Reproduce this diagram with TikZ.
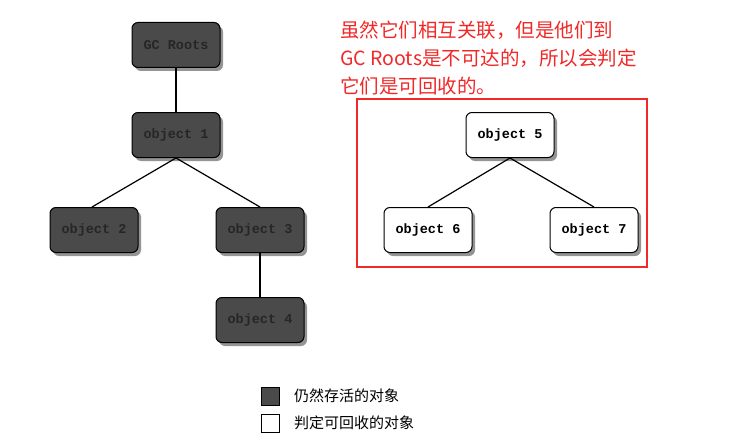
\documentclass[tikz,border=0pt]{standalone}
\usepackage{fontspec}
\newfontfamily\cjk{Noto Sans CJK SC}
\newfontfamily\mono{Liberation Mono}
\usetikzlibrary{shadows}
\definecolor{darkobj}{HTML}{4A4A4A}
\definecolor{redtxt}{HTML}{F02828}
\begin{document}
\begin{tikzpicture}[x=1pt,y=-1pt,
  objbox/.style={rounded corners=6pt, draw=black, line width=1pt, minimum width=88pt, minimum height=45pt, font=\mono\fontsize{13.5}{13.5}\selectfont\bfseries, drop shadow={shadow xshift=3pt, shadow yshift=-3.5pt, opacity=0.6, fill=black!70}},
  live/.style={objbox, fill=darkobj, text=black!85},
  dead/.style={objbox, fill=white, text=black},
  link/.style={line width=1.2pt, black}]
\useasboundingbox (0,0) rectangle (739,444);
\node[live] (gc) at (176,45) {GC Roots};
\node[live] (o1) at (176,135) {object 1};
\node[live] (o2) at (94,230) {object 2};
\node[live] (o3) at (260,230) {object 3};
\node[live] (o4) at (260,320) {object 4};
\node[dead] (o5) at (510,135) {object 5};
\node[dead] (o6) at (428,230) {object 6};
\node[dead] (o7) at (594,230) {object 7};
\draw[link] (gc.south) -- (o1.north);
\draw[link] (o1.south) -- ([xshift=-2pt]o2.north);
\draw[link] (o1.south) -- (o3.north);
\draw[link] (o3.south) -- (o4.north);
\draw[link] (o5.south) -- (o6.north);
\draw[link] (o5.south) -- (o7.north);
\node[draw=redtxt, line width=2pt, minimum width=290pt, minimum height=168pt, inner sep=0pt] (frame) at (502,183) {};
\node[anchor=north west, text=redtxt, font=\cjk\fontsize{19.5}{28}\selectfont, align=left, inner sep=0pt] (note) at (340,21) {虽然它们相互关联，但是他们到\\GC Roots是不可达的，所以会判定\\它们是可回收的。};
\node[draw=black, line width=1pt, fill=darkobj, minimum size=18pt, inner sep=0pt] (k1) at (270,396) {};
\node[draw=black, line width=1pt, fill=white, minimum size=18pt, inner sep=0pt] (k2) at (270,423) {};
\node[anchor=west, font=\cjk\fontsize{15}{15}\selectfont, inner sep=0pt] (t1) at (294,396) {仍然存活的对象};
\node[anchor=west, font=\cjk\fontsize{15}{15}\selectfont, inner sep=0pt] (t2) at (294,423) {判定可回收的对象};
\end{tikzpicture}
\end{document}
